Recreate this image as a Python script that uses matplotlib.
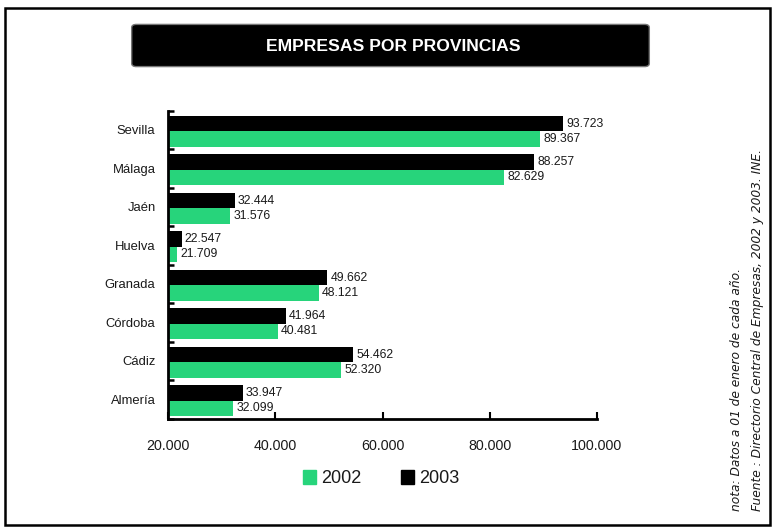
import numpy as np
import matplotlib
matplotlib.use("Agg")
from matplotlib import pyplot as plt
from matplotlib.patches import Patch, Rectangle, FancyBboxPatch

provincias = ["Almería", "Cádiz", "Córdoba", "Granada", "Huelva", "Jaén", "Málaga", "Sevilla"]
empresas_2002 = [32099, 52320, 40481, 48121, 21709, 31576, 82629, 89367]
empresas_2003 = [33947, 54462, 41964, 49662, 22547, 32444, 88257, 93723]
x_ticks = [20000, 40000, 60000, 80000, 100000]

verde = "#27d47b"
texto = "#1a1a1a"


def miles(v):
    # spanish thousands separator
    return f"{v:,.0f}".replace(",", ".")


plt.rcParams["font.family"] = ["Liberation Sans", "DejaVu Sans"]

fig = plt.figure(figsize=(7.74, 5.28), dpi=100)

# outer frame
fig.patches.append(Rectangle((5 / 774, 3 / 528), 765 / 774, 517 / 528, transform=fig.transFigure,
                             fill=False, edgecolor="black", lw=1.8))

# title box
fig.patches.append(FancyBboxPatch((134 / 774, 463 / 528), 513 / 774, 39 / 528,
                                  boxstyle="round,pad=0.003,rounding_size=0.006",
                                  transform=fig.transFigure, facecolor="black",
                                  edgecolor="#777777", lw=1))
fig.text(0.508, 0.912, "EMPRESAS POR PROVINCIAS", color="white", fontsize=12.6,
         fontweight="bold", ha="center", va="center")

ax = fig.add_axes([168 / 774, 1 - 418.5 / 528, 429 / 774, 308 / 528])

y = np.arange(len(provincias))
h = 0.4
ax.barh(y + 0.16, [v - x_ticks[0] for v in empresas_2003], height=h, left=x_ticks[0],
        color="black")
ax.barh(y - 0.24, [v - x_ticks[0] for v in empresas_2002], height=h, left=x_ticks[0],
        color=verde)

for yy, v in zip(y + 0.16, empresas_2003):
    ax.text(v + 600, yy, miles(v), va="center", ha="left", fontsize=8.8, color=texto)
for yy, v in zip(y - 0.24, empresas_2002):
    ax.text(v + 600, yy, miles(v), va="center", ha="left", fontsize=8.8, color=texto)

ax.set_xlim(x_ticks[0], x_ticks[-1])
ax.set_ylim(-0.5, len(provincias) - 0.5)
ax.set_xticks(x_ticks)
ax.set_xticklabels([miles(v) for v in x_ticks], fontsize=10.3, color=texto)
ax.tick_params(axis="x", direction="in", length=5, width=1.5, pad=15)

ax.set_yticks(np.arange(len(provincias) + 1) - 0.5)
ax.set_yticklabels([])
ax.set_yticks(y, minor=True)
ax.set_yticklabels(provincias, minor=True, fontsize=9.4, color=texto)
ax.tick_params(axis="y", which="major", direction="in", length=4, width=1.8)
ax.tick_params(axis="y", which="minor", length=0, pad=9)

for s in ["top", "right"]:
    ax.spines[s].set_visible(False)
for s in ["left", "bottom"]:
    ax.spines[s].set_linewidth(2)

ax.legend(handles=[Patch(color=verde, label="2002"), Patch(color="black", label="2003")],
          ncol=2, loc="center", bbox_to_anchor=(0.497, -0.195), frameon=False,
          handlelength=0.7, handleheight=0.8, handletextpad=0.3, columnspacing=2.2,
          fontsize=13, labelcolor=texto)

fig.text(737 / 774, 17 / 528, "nota: Datos a 01 de enero de cada año.", rotation=90,
         ha="center", va="bottom", fontsize=8.8, style="italic", color=texto,
         family=["DejaVu Sans"])
fig.text(757 / 774, 17 / 528, "Fuente : Directorio Central de Empresas, 2002 y 2003. INE.",
         rotation=90, ha="center", va="bottom", fontsize=8.8, style="italic", color=texto,
         family=["DejaVu Sans"])

fig.savefig("out.png", dpi=100)
